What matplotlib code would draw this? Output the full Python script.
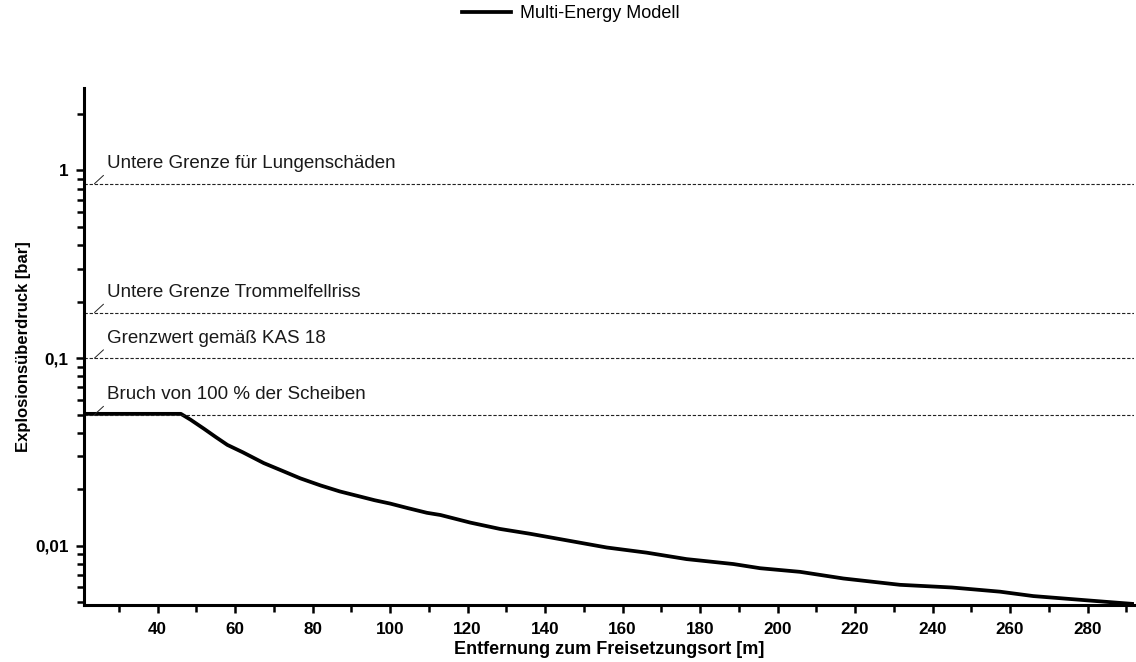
import numpy as np
import matplotlib
matplotlib.use("Agg")
import matplotlib.pyplot as plt
from matplotlib.ticker import FixedLocator, LogLocator, NullFormatter, MultipleLocator

plt.rcParams['font.family'] = ['Liberation Sans', 'DejaVu Sans']

# Multi-Energy Modell curve (distance in m, overpressure in bar)
distance = [21, 46, 48.5, 52, 55, 58, 62, 67.4, 72, 76.8, 82, 87, 92.3, 96, 100,
            104.5, 109.5, 113, 120.7, 128.4, 136.1, 145.6, 155.9, 166.2, 176.5,
            188.6, 195.5, 205.8, 217, 231.6, 245, 257.4, 266, 276, 286.5, 292]
pressure = [0.0505, 0.0505, 0.047, 0.042, 0.038, 0.0345, 0.0315, 0.0276, 0.0252,
            0.0229, 0.0210, 0.0195, 0.0183, 0.0175, 0.0168, 0.0159, 0.0150, 0.0146,
            0.0133, 0.0123, 0.0116, 0.0107, 0.0098, 0.0092, 0.0085, 0.0080, 0.0076,
            0.00727, 0.0067, 0.0062, 0.0060, 0.0057, 0.0054, 0.0052, 0.0050, 0.0049]

# threshold lines
threshold_values = [0.85, 0.175, 0.1, 0.05]
threshold_labels = ["Untere Grenze für Lungenschäden",
                    "Untere Grenze Trommelfellriss",
                    "Grenzwert gemäß KAS 18",
                    "Bruch von 100 % der Scheiben"]

y_ticks = [0.01, 0.1, 1]
y_ticklabels = ["0,01", "0,1", "1"]
x_ticks = list(range(40, 281, 20))

fig = plt.figure(figsize=(11.36, 6.62), dpi=100)
ax = fig.add_axes([84 / 1136, 1 - 605 / 662, 1050 / 1136, 517 / 662])

line, = ax.plot(distance, pressure, color='black', lw=2.7, solid_joinstyle='round',
                label="Multi-Energy Modell")

for val, txt in zip(threshold_values, threshold_labels):
    ax.axhline(val, color='#222222', lw=0.8, ls=(0, (3, 1.6)))
    # small leader line and label
    ax.annotate('', xy=(23.7, val), xytext=(6.5, 6), textcoords='offset points',
                arrowprops=dict(arrowstyle='-', lw=0.7, color='#222222',
                                shrinkA=0, shrinkB=0))
    ax.annotate(txt, xy=(23.7, val), xytext=(9.2, 11), textcoords='offset points',
                ha='left', va='baseline', fontsize=13.5, color='#1a1a1a')

ax.set_yscale('log')
ax.set_xlim(21, 292)
ax.set_ylim(0.00484, 2.75)

ax.yaxis.set_major_locator(FixedLocator(y_ticks))
ax.set_yticklabels(y_ticklabels)
ax.yaxis.set_minor_locator(LogLocator(base=10, subs=np.arange(2, 10)))
ax.yaxis.set_minor_formatter(NullFormatter())

ax.set_xticks(x_ticks)
ax.xaxis.set_minor_locator(MultipleLocator(10))

for side in ['top', 'right']:
    ax.spines[side].set_visible(False)
for side in ['left', 'bottom']:
    ax.spines[side].set_linewidth(2.2)

ax.tick_params(which='major', direction='out', length=6, width=1.8, labelsize=12.3, pad=5)
ax.tick_params(which='minor', direction='out', length=5, width=1.8)
ax.tick_params(axis='x', which='major', pad=6)
for lab in ax.get_xticklabels() + ax.get_yticklabels():
    lab.set_fontweight('bold')

ax.set_xlabel("Entfernung zum Freisetzungsort [m]", fontsize=13, fontweight='bold', labelpad=3)
ax.set_ylabel("Explosionsüberdruck [bar]", fontsize=12, fontweight='bold', labelpad=3)

fig.legend(handles=[line], loc='center', bbox_to_anchor=(571 / 1136, 1 - 14 / 662),
           frameon=False, fontsize=13, handlelength=2.7, handletextpad=0.5)

fig.savefig("out.png", dpi=100)
